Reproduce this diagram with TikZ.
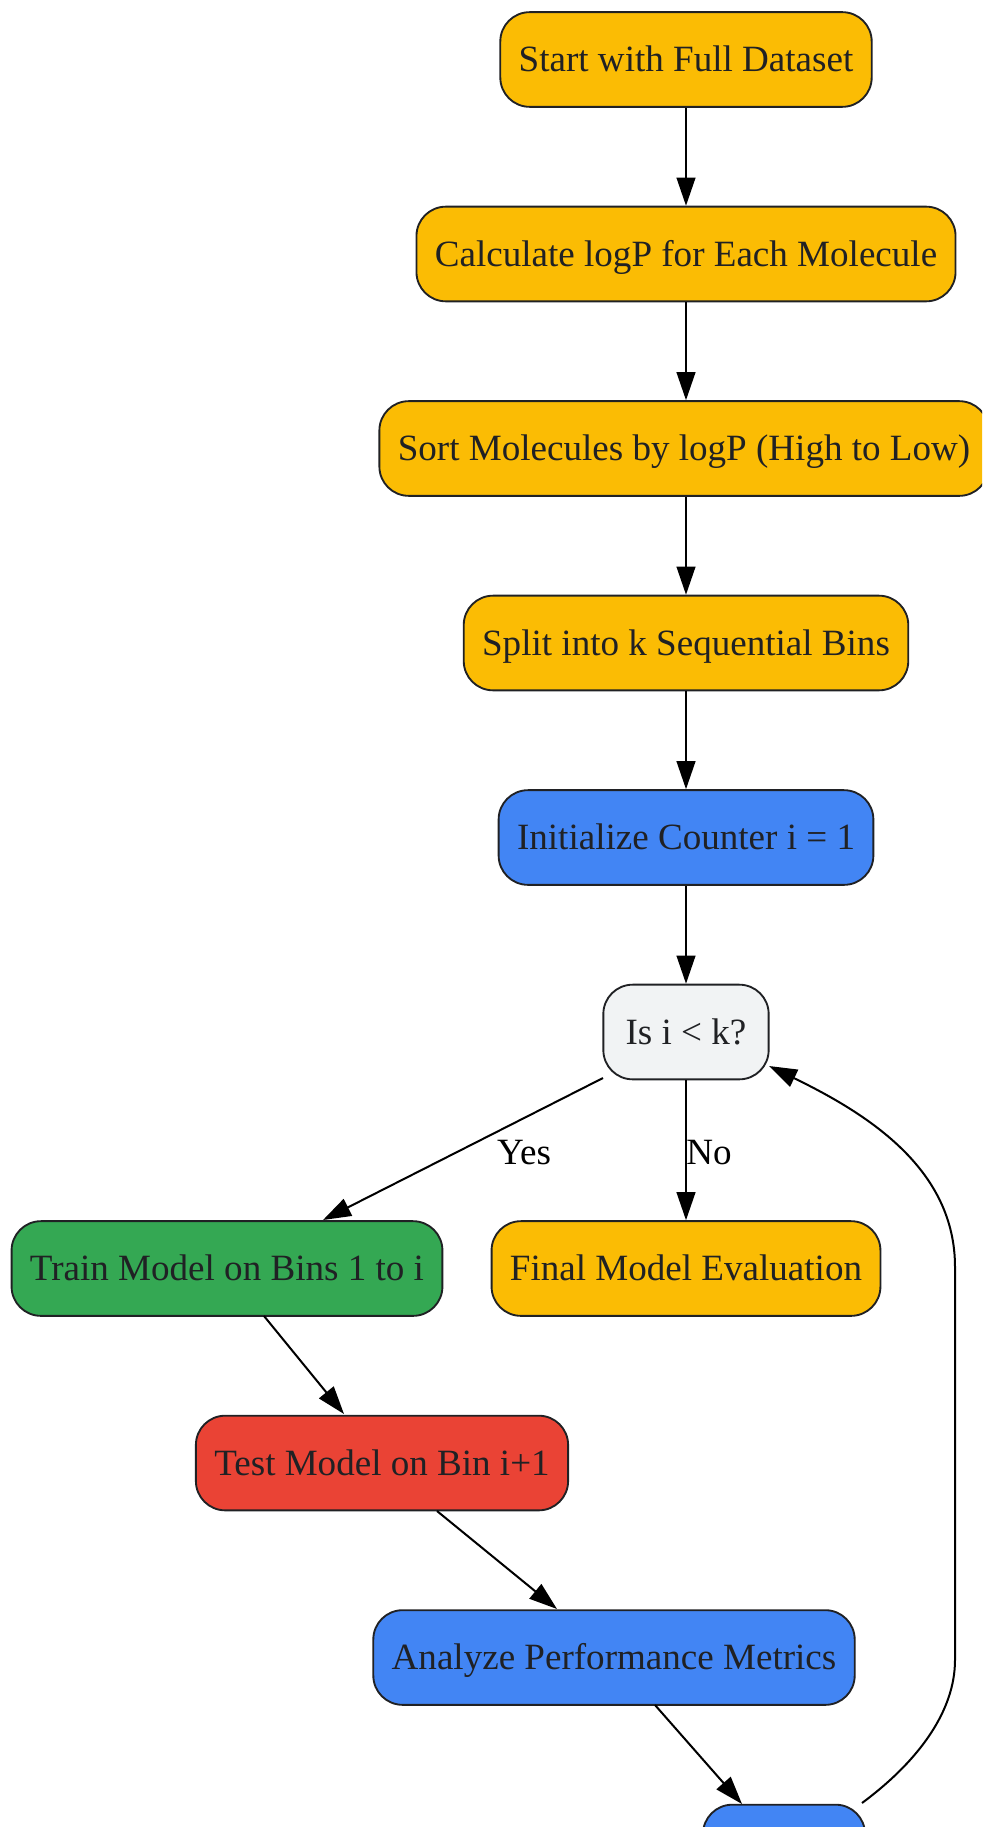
\documentclass[tikz,border=0pt]{standalone}
\usepackage{fontspec}
\setmainfont{Liberation Serif}
\usetikzlibrary{arrows.meta}
\definecolor{gyellow}{HTML}{FBBC04}
\definecolor{gblue}{HTML}{4285F4}
\definecolor{ggreen}{HTML}{34A853}
\definecolor{gred}{HTML}{EA4335}
\definecolor{ggrey}{HTML}{F1F3F4}
\definecolor{ink}{HTML}{202124}
\tikzset{
  stepbox/.style={draw=ink, line width=1.4pt, rounded corners=22pt,
    minimum height=71pt, inner xsep=13.8pt, text=ink,
    text height=22pt, text depth=3.6pt,
    font=\fontsize{27.8}{33}\selectfont},
  yellowbox/.style={stepbox, fill=gyellow},
  bluebox/.style={stepbox, fill=gblue},
  greenbox/.style={stepbox, fill=ggreen},
  redbox/.style={stepbox, fill=gred},
  greybox/.style={stepbox, fill=ggrey},
  flow/.style={-{Triangle[length=21pt,width=14pt]}, line width=1.5pt, black},
  edgelabel/.style={font=\fontsize{27.8}{33}\selectfont}
}
\begin{document}
\begin{tikzpicture}[x=0.75pt,y=-0.75pt]
\useasboundingbox (0,0) rectangle (982,1827);
\clip (0,0) rectangle (982,1827);

\node[yellowbox] (start) at (686,59.5) {Start with Full Dataset};
\node[yellowbox] (calc) at (686,254) {Calculate logP for Each Molecule};
\node[yellowbox] (sort) at (684,448.5) {Sort Molecules by logP (High to Low)};
\node[yellowbox] (split) at (686,643) {Split into k Sequential Bins};
\node[bluebox] (init) at (686,837.5) {Initialize Counter i = 1};
\node[greybox, minimum width=124pt] (check) at (686,1032) {Is i < k?};
\node[greenbox] (train) at (227,1268.5) {Train Model on Bins 1 to i};
\node[yellowbox] (final) at (686,1268.5) {Final Model Evaluation};
\node[redbox] (test) at (382,1463) {Test Model on Bin i+1};
\node[bluebox] (analyze) at (614,1657.5) {Analyze Performance Metrics};
\node[bluebox, minimum width=121.5pt] (incr) at (784,1852) {};

\draw[flow] (start) -- (calc);
\draw[flow] (calc) -- (sort.north -| calc);
\draw[flow] (sort.south -| calc) -- (split);
\draw[flow] (split) -- (init);
\draw[flow] (init) -- (check);

\coordinate (yesfrom) at (603,1078);
\coordinate (yesto) at (323,1220);
\draw[flow] (yesfrom) -- (yesto);
\node[edgelabel] (yes) at (524,1153) {Yes};
\draw[flow] (check) -- (final);
\node[edgelabel, anchor=west, inner xsep=0pt] (no) at (686,1153) {No};

\draw[flow] (264,1316) -- (344,1414);
\draw[flow] (437,1511) -- (557,1609);
\draw[flow] (655,1705) -- (742,1804);

% loop back to the check
\coordinate (loopstart) at (862,1803);
\coordinate (loopbottom) at (955,1660);
\coordinate (looptop) at (955,1267);
\coordinate (looptip) at (769,1066);
\draw[flow] (loopstart) .. controls (920,1760) and (955,1710) .. (loopbottom)
  -- (looptop) .. controls (955,1170) and (870,1115) .. (looptip);
\end{tikzpicture}
\end{document}
